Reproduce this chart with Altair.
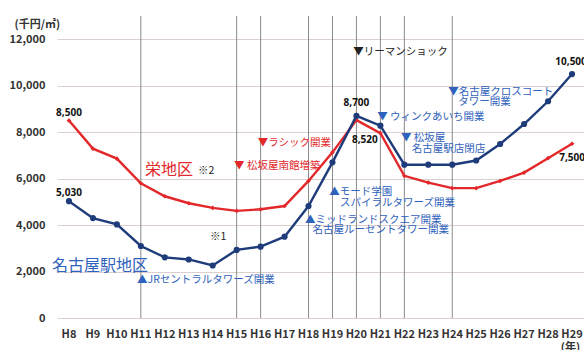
import altair as alt
import pandas as pd

# ---- data ----
years = list(range(8, 30))
year_labels = ["H" + str(y) for y in years]
nagoya_station = [5030, 4300, 4030, 3100, 2610, 2520, 2260, 2930, 3070, 3500, 4820, 6700,
                  8700, 8280, 6600, 6600, 6600, 6780, 7490, 8350, 9330, 10500]
sakae = [8500, 7290, 6860, 5800, 5240, 4940, 4740, 4610, 4680, 4820, 5900, 7130,
         8520, 7960, 6120, 5830, 5590, 5590, 5900, 6260, 6880, 7500]
event_years = [11, 15, 16, 18, 19, 20, 21, 22, 24]

FONT = "Noto Sans CJK JP"
RED = "#e3282b"
NAVY = "#1f3c7a"
BLUE_TXT = "#2f62bb"

df = pd.DataFrame({
    "year": years * 2,
    "value": nagoya_station + sakae,
    "area": ["名古屋駅地区"] * len(years) + ["栄地区"] * len(years),
})
df_blue = df[df["area"] == "名古屋駅地区"]
df_red = df[df["area"] == "栄地区"]
df_ticks = pd.DataFrame({"year": years, "label": year_labels})

# annotation anchors (data coordinates)
red_notes = pd.DataFrame({
    "text": ["▼ラシック開業", "▼ 松坂屋南館増築"],
    "year": [15.88, 14.89],
    "value": [7547, 6544],
})
blue_notes = pd.DataFrame({
    "text": ["▲JRセントラルタワーズ開業", "▲モード学園", "スパイラルタワーズ開業",
             "▲ミッドランドスクエア開業", "名古屋ルーセントタワー開業",
             "▼ ウィンクあいち開業", "▼ 松坂屋", "名古屋駅店閉店",
             "▼名古屋クロスコート", "タワー開業"],
    "year": [10.84, 18.87, 19.31, 17.85, 18.17, 20.87, 21.86, 22.31, 23.83, 24.25],
    "value": [1636, 5403, 4938, 4240, 3788, 8666, 7736, 7262, 9742, 9312],
})
black_notes = pd.DataFrame({
    "text": ["▼リーマンショック", "※2", "※1"],
    "year": [19.87, 13.39, 13.89],
    "value": [11464, 6341, 3474],
})
value_labels = pd.DataFrame({
    "text": ["8,500", "5,030", "8,700", "8,520", "10,500", "7,500"],
    "year": [8.0, 8.0, 20.0, 20.35, 28.96, 29.0],
    "value": [8838, 5394, 9269, 7663, 11008, 6875],
})
area_labels = pd.DataFrame({
    "text": ["栄地区", "名古屋駅地区"],
    "year": [11.17, 7.29],
    "value": [6371, 2239],
    "col": [RED, BLUE_TXT],
})

xscale = alt.Scale(domain=[7.5, 29.5], nice=False, zero=False)
yscale = alt.Scale(domain=[0, 13000], nice=False)

x_axis = alt.Axis(
    labels=False, grid=False, domain=False, ticks=False,
    title="(年)", titleFont=FONT, titleFontSize=11, titleFontWeight="bold",
    titleColor="#333333", titleX=513, titleY=29, titleAlign="center",
    titleBaseline="middle", titleAnchor="start")
y_axis = alt.Axis(
    values=[0, 2000, 4000, 6000, 8000, 10000, 12000], format=",d", grid=True,
    gridColor="#dccfcf", gridWidth=1.2, domain=False, ticks=False, labelPadding=12,
    labelFont=FONT, labelFontSize=11, labelFontWeight="bold", labelColor="#333333",
    labelOverlap=False,
    title="(千円/㎡)", titleFont=FONT, titleFontSize=11, titleFontWeight="bold",
    titleColor="#333333", titleAngle=0, titleAlign="left", titleBaseline="middle",
    titleX=-43, titleY=8, titleAnchor="start")

rules = alt.Chart(pd.DataFrame({"year": event_years, "value": [0] * len(event_years)})).mark_rule(
    color="#8a8a8a", strokeWidth=1).encode(
    x=alt.X("year:Q", scale=xscale, axis=x_axis),
    y=alt.Y("value:Q", scale=yscale, axis=y_axis),
    y2=alt.Y2(datum=13000))

# x tick labels drawn as text under the plot
x_labels = alt.Chart(df_ticks).mark_text(
    font=FONT, fontSize=11, fontWeight="bold", color="#333333",
    align="center", baseline="middle", dy=17).encode(
    x="year:Q", y=alt.value(302), text="label:N")

red_line = alt.Chart(df_red).mark_line(color=RED, strokeWidth=2.4).encode(x="year:Q", y="value:Q")
red_pts = alt.Chart(df_red).mark_point(shape="diamond", filled=True, color=RED, size=22,
                                       opacity=1).encode(x="year:Q", y="value:Q")
blue_line = alt.Chart(df_blue).mark_line(color=NAVY, strokeWidth=2.4).encode(x="year:Q", y="value:Q")
blue_pts = alt.Chart(df_blue).mark_point(shape="circle", filled=True, color=NAVY, size=38,
                                         opacity=1).encode(x="year:Q", y="value:Q")


def notes(data, color, size, align="left", weight="normal", font=FONT):
    return alt.Chart(data).mark_text(align=align, baseline="middle", font=font,
                                     fontSize=size, color=color, fontWeight=weight).encode(
        x="year:Q", y="value:Q", text="text:N")


t_red = notes(red_notes, RED, 10.5)
t_blue = notes(blue_notes, BLUE_TXT, 10.5)
t_black = notes(black_notes, "#222222", 10.5)
t_vals = notes(value_labels, "#111111", 10, align="center", weight="bold", font="Noto Sans")
t_areas = alt.Chart(area_labels).mark_text(align="left", baseline="middle", font=FONT,
                                           fontSize=16).encode(
    x="year:Q", y="value:Q", text="text:N", color=alt.Color("col:N", scale=None))

chart = alt.layer(rules, x_labels, red_line, red_pts, blue_line, blue_pts, t_red, t_blue,
                  t_black, t_vals, t_areas).properties(
    width=527, height=302,
    autosize=alt.AutoSizeParams(type="none"),
    padding={"left": 57, "top": 16, "right": 0, "bottom": 32},
    background="white",
).configure_view(stroke=None)

chart.save("out.html", embed_options={"renderer": "svg", "actions": False})
